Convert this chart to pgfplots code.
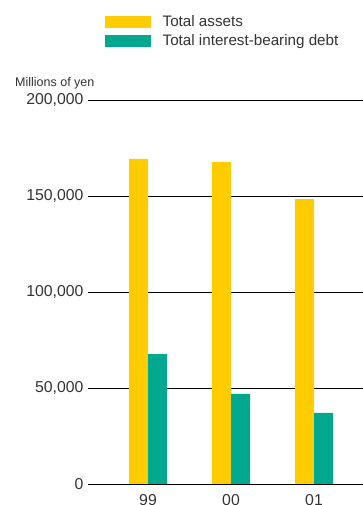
\documentclass[border=0pt]{standalone}
\usepackage{fontspec}
\setmainfont{Liberation Sans}
\usepackage{pgfplots}
\pgfplotsset{compat=1.18}
\definecolor{cyellow}{RGB}{255,204,0}
\definecolor{cteal}{RGB}{0,168,142}
\definecolor{ctext}{RGB}{51,51,51}
\begin{document}
\begin{tikzpicture}
\path[use as bounding box] (0bp,0bp) rectangle (363bp,505bp);
\begin{axis}[
  at={(88bp,21bp)}, anchor=south west,
  scale only axis, width=275bp, height=384bp,
  xmin=-0.723, xmax=2.59, ymin=0, ymax=200000,
  axis x line=bottom, axis y line=left,
  axis line style={draw=none},
  xtick={0,1,2}, xticklabels={99,00,01},
  ytick={0,50000,100000,150000,200000},
  yticklabels={0,{50,000},{100,000},{150,000},{200,000}},
  major tick length=0pt,
  ymajorgrids, grid style={black, line width=0.9bp},
  scaled y ticks=false,
  tick label style={font=\fontsize{15.8bp}{19bp}\selectfont, text=ctext},
  yticklabel style={xshift=-1bp},
  xticklabel style={yshift=-7bp},
  legend style={draw=none, fill=none, at={(axis description cs:0.049,1.2298)}, anchor=north west,
    font=\fontsize{15.2bp}{18bp}\selectfont, text=ctext, row sep=2bp,
    legend cell align=left},
  legend image code/.code={\fill[#1] (0bp,-6bp) rectangle (46bp,6bp); \path (56bp,0bp);},
]
\addplot[ybar, bar width=19bp, bar shift=-9.5bp, fill=cyellow, draw=none] coordinates {(0,169300) (1,167700) (2,148400)};
\addlegendentry{Total assets}
\addplot[ybar, bar width=19bp, bar shift=9.5bp, fill=cteal, draw=none] coordinates {(0,67700) (1,46900) (2,37000)};
\addlegendentry{Total interest-bearing debt}
\end{axis}
\node[anchor=base west, inner sep=0pt, text=ctext, font=\fontsize{12.5bp}{15bp}\selectfont] at (15bp,418bp) {Millions of yen};
\end{tikzpicture}
\end{document}
